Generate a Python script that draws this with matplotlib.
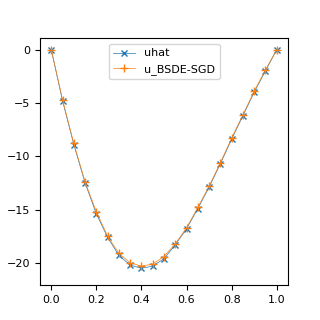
import matplotlib
matplotlib.use("Agg")
import matplotlib.pyplot as plt

x = [0.0, 0.05, 0.1, 0.15, 0.2, 0.25, 0.3, 0.35, 0.4, 0.45, 0.5,
     0.55, 0.6, 0.65, 0.7, 0.75, 0.8, 0.85, 0.9, 0.95, 1.0]
uhat = [0.0, -4.8, -8.9, -12.5, -15.4, -17.6, -19.3, -20.2, -20.5, -20.3, -19.6,
        -18.3, -16.8, -14.9, -12.9, -10.7, -8.4, -6.2, -4.0, -2.0, 0.0]
u_bsde = [0.0, -4.7, -8.8, -12.4, -15.2, -17.5, -19.1, -20.0, -20.3, -20.1, -19.4,
          -18.2, -16.7, -14.8, -12.8, -10.6, -8.3, -6.1, -3.9, -1.9, 0.0]

fig, ax = plt.subplots(figsize=(3.2, 3.2), dpi=100)
ax.plot(x, uhat, marker="x", linewidth=0.5, markersize=5, label="uhat")
ax.plot(x, u_bsde, marker="+", linewidth=0.5, markersize=6, label="u_BSDE-SGD")
ax.set_ylim(-22.05, 1.05)
ax.tick_params(labelsize=8)
ax.legend(loc="upper center", fontsize=8)
fig.savefig("out.png")
